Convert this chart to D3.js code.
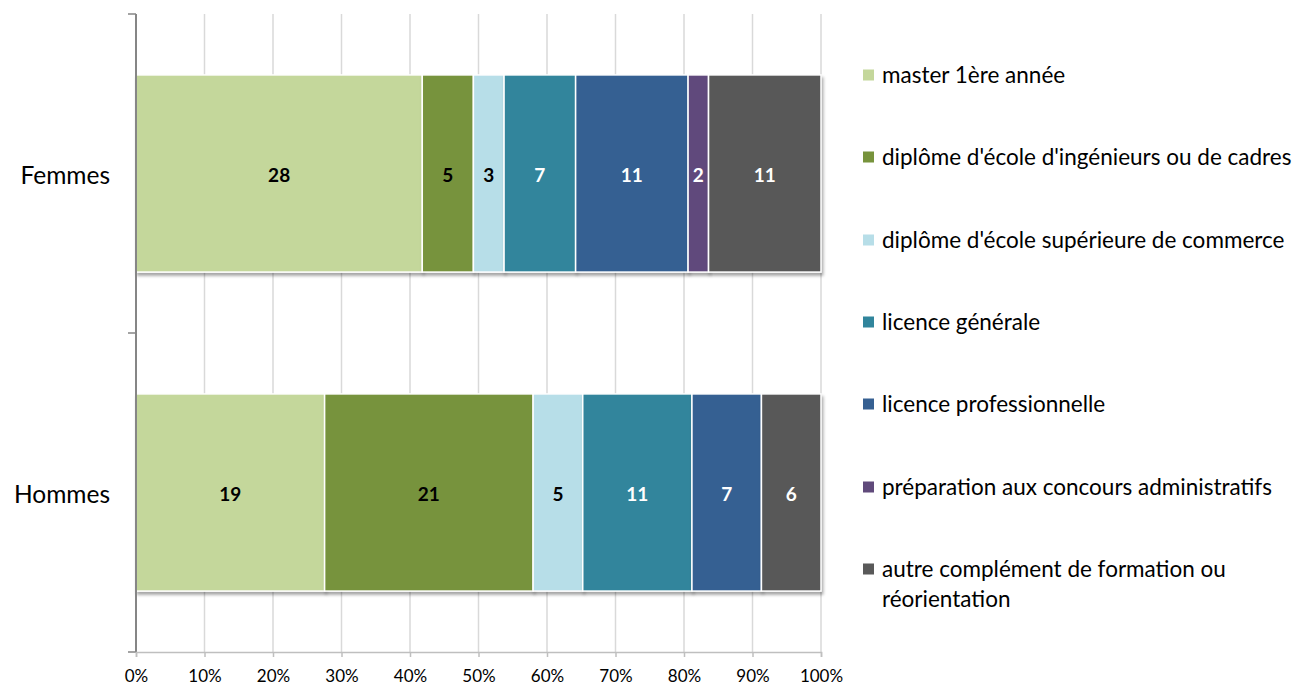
<!DOCTYPE html>
<html>
<head>
<meta charset="utf-8" />
<title>Poursuite d'études</title>
<style type="text/css">
  body { margin: 0; background: #fff; font-family: 'Lato', sans-serif; }
  svg text { fill: #000; }
</style>
</head>
<body>
<div id="chart"></div>
<script src="https://d3js.org/d3.v7.min.js"></script>
<script>
// data
var categories = ["Femmes", "Hommes"];
var series = [
  "master 1ère année",
  "diplôme d'école d'ingénieurs ou de cadres",
  "diplôme d'école supérieure de commerce",
  "licence générale",
  "licence professionnelle",
  "préparation aux concours administratifs",
  "autre complément de formation ou réorientation"
];
var femmes = [28, 5, 3, 7, 11, 2, 11];
var hommes = [19, 21, 5, 11, 7, 0, 6];
var colors = ["#c4d79b", "#77933c", "#b7dee8", "#31859c", "#366092", "#604a7b", "#595959"];
var labelColors = ["#000", "#000", "#000", "#fff", "#fff", "#fff", "#fff"];
var xTicks = [0, 0.1, 0.2, 0.3, 0.4, 0.5, 0.6, 0.7, 0.8, 0.9, 1];

var width = 1297, height = 687;
var plotLeft = 136, plotRight = 821, plotTop = 14, plotBottom = 652;

var svg = d3.select('#chart').append('svg')
  .attr('width', width).attr('height', height);

var defs = svg.append('defs');
var f = defs.append('filter').attr('id', 'shadow')
  .attr('x', '-10%').attr('y', '-10%').attr('width', '130%').attr('height', '130%');
f.append('feDropShadow').attr('dx', 1.5).attr('dy', 3).attr('stdDeviation', 1.6)
  .attr('flood-color', '#000').attr('flood-opacity', 0.35);

var x = d3.scaleLinear().domain([0, 1]).range([plotLeft, plotRight]);
var y = d3.scaleBand().domain(categories).range([plotTop, plotBottom])
  .paddingInner(0.382).paddingOuter(0.191);

// gridlines
svg.append('g').selectAll('line')
  .data(xTicks.slice(1))
  .enter().append('line')
  .attr('x1', function(d) { return x(d); }).attr('x2', function(d) { return x(d); })
  .attr('y1', plotTop).attr('y2', plotBottom)
  .attr('stroke', '#d9d9d9').attr('stroke-width', 1.5);

// stacked rows
var rows = [femmes, hommes];
var stackData = rows.map(function(vals, i) {
  var total = d3.sum(vals), acc = 0;
  return vals.map(function(v, j) {
    var s = { cat: categories[i], j: j, v: v, x0: acc / total, x1: (acc + v) / total };
    acc += v;
    return s;
  }).filter(function(s) { return s.v > 0; });
});

var g = svg.append('g');
stackData.forEach(function(segs) {
  g.append('g').selectAll('rect')
    .data(segs).enter().append('rect')
    .attr('x', function(d) { return x(d.x0); })
    .attr('width', function(d) { return x(d.x1) - x(d.x0); })
    .attr('y', function(d) { return y(d.cat); })
    .attr('height', y.bandwidth())
    .attr('fill', function(d) { return colors[d.j]; })
    .attr('stroke', '#fff').attr('stroke-width', 1.5)
    .attr('filter', 'url(#shadow)');

  g.append('g').selectAll('text')
    .data(segs).enter().append('text')
    .attr('x', function(d) { return (x(d.x0) + x(d.x1)) / 2; })
    .attr('y', function(d) { return y(d.cat) + y.bandwidth() / 2 + 2; })
    .attr('dy', '0.35em')
    .attr('text-anchor', 'middle')
    .style('font-size', '19px').style('font-weight', 'bold')
    .style('fill', function(d) { return labelColors[d.j]; })
    .text(function(d) { return d.v; });
});

// left axis
var yAxisG = svg.append('g');
yAxisG.append('line').attr('x1', plotLeft).attr('x2', plotLeft).attr('y1', plotTop).attr('y2', plotBottom)
  .attr('stroke', '#868686').attr('stroke-width', 2);
yAxisG.selectAll('.tk').data([plotTop, plotTop + y.step(), plotBottom]).enter().append('line')
  .attr('x1', plotLeft - 8).attr('x2', plotLeft).attr('y1', function(d) { return d; }).attr('y2', function(d) { return d; })
  .attr('stroke', '#868686').attr('stroke-width', 1.5);
yAxisG.selectAll('text').data(categories).enter().append('text')
  .attr('x', 110).attr('y', function(d) { return y(d) + y.bandwidth() / 2 + 2; })
  .attr('dy', '0.35em').attr('text-anchor', 'end')
  .style('font-size', '24.5px')
  .text(function(d) { return d; });

// bottom axis
var xAxis = d3.axisBottom(x).tickValues(xTicks).tickFormat(d3.format('.0%')).tickSize(5).tickPadding(13);
var xg = svg.append('g').attr('transform', 'translate(0,' + plotBottom + ')').call(xAxis);
xg.select('.domain').attr('stroke', '#bfbfbf').attr('stroke-width', 1.5);
xg.selectAll('.tick line').attr('stroke', '#bfbfbf').attr('stroke-width', 1.5);
xg.selectAll('.tick text').style('font-size', '17px').style('font-family', 'Lato, sans-serif').attr('fill', '#000');

// legend
var legendY = [75, 157, 240, 322, 404, 487, 569];
var lg = svg.append('g');
series.forEach(function(name, i) {
  var item = lg.append('g').attr('transform', 'translate(0,' + legendY[i] + ')');
  item.append('rect').attr('x', 863).attr('y', -5.5).attr('width', 11).attr('height', 11)
    .attr('fill', colors[i]);
  var t = item.append('text').attr('x', 882).attr('dy', '0.35em').style('font-size', '22.5px');
  if (i === 6) {
    t.append('tspan').attr('x', 882).text('autre complément de formation ou');
    t.append('tspan').attr('x', 882).attr('dy', '1.33em').text('réorientation');
  } else {
    t.text(name);
  }
});
</script>
</body>
</html>
